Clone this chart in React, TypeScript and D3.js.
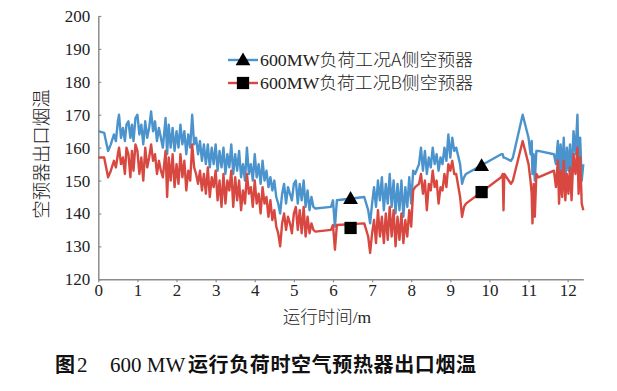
import React, { useEffect, useRef } from 'react';
import * as d3 from 'd3';

// running time (min)
const minutes = [
  0.0, 0.15, 0.25, 0.32, 0.4, 0.45, 0.5, 0.53, 0.58, 0.63, 0.68, 0.72, 0.77, 0.82, 0.86, 0.9, 0.95, 1.0,
  1.05, 1.1, 1.15, 1.2, 1.25, 1.3, 1.35, 1.4, 1.45, 1.5, 1.55, 1.6, 1.65, 1.72, 1.76, 1.8, 1.85, 1.9, 1.95,
  2.0, 2.05, 2.1, 2.15, 2.2, 2.25, 2.3, 2.35, 2.4, 2.45, 2.5, 2.55, 2.6, 2.65, 2.7, 2.75, 2.8, 2.85, 2.9,
  2.95, 3.0, 3.05, 3.1, 3.15, 3.2, 3.25, 3.3, 3.35, 3.4, 3.45, 3.5, 3.55, 3.6, 3.65, 3.7, 3.75, 3.8, 3.85,
  3.9, 3.95, 4.0, 4.05, 4.1, 4.15, 4.2, 4.25, 4.3, 4.35, 4.4, 4.45, 4.5, 4.55, 4.6, 4.65, 4.7, 4.75, 4.8,
  4.85, 4.9, 4.95, 5.0, 5.05, 5.1, 5.15, 5.2, 5.25, 5.3, 5.35, 5.4, 5.45, 5.5, 5.55, 5.95, 6.0, 6.05, 6.1,
  6.8, 6.9, 6.95, 7.0, 7.05, 7.1, 7.15, 7.2, 7.25, 7.3, 7.35, 7.4, 7.45, 7.5, 7.55, 7.6, 7.65, 7.7, 7.75,
  7.8, 7.85, 7.9, 7.95, 8.0, 8.05, 8.1, 8.2, 8.25, 8.3, 8.35, 8.4, 8.45, 8.5, 8.55, 8.6, 8.65, 8.7, 8.75,
  8.8, 8.85, 8.9, 8.95, 9.0, 9.05, 9.1, 9.15, 9.25, 9.3, 9.35, 9.4, 10.3, 10.34, 10.36, 10.38, 10.55, 10.6,
  10.85, 11.0, 11.05, 11.08, 11.1, 11.13, 11.16, 11.2, 11.25, 11.65, 11.7, 11.75, 11.78, 11.82, 11.86,
  11.9, 11.94, 11.98, 12.02, 12.06, 12.1, 12.15, 12.2, 12.25, 12.28, 12.32, 12.36, 12.4,
];

// A-side air preheater outlet flue gas temperature
const sideA = [
  165, 164.5, 159, 161, 164, 162, 168, 170, 163, 166, 162, 167, 168, 163, 167, 162, 169, 170,
  164, 167, 161, 168, 163, 166, 171, 165, 168, 162, 166, 163, 160, 169, 158, 167, 160, 166, 159,
  165, 160, 167, 161, 165, 158, 164, 160, 170, 161, 163, 158, 162, 156, 161, 155, 161, 154, 160,
  155, 161, 153, 159, 154, 160, 152, 158, 154, 161, 152, 158, 153, 159, 151, 155, 150, 160, 152,
  155, 150, 158, 151, 155, 149, 156, 150, 153, 148, 151, 147, 150, 145, 143, 140, 146, 149, 143,
  148, 146, 144, 149, 150, 143, 149, 144, 150, 142, 147, 141, 145, 142, 141.5, 142, 144, 136, 144,
  145, 141, 137, 143, 148, 142, 150, 144, 151, 141, 149, 143, 152, 142, 150, 140, 149, 141, 150,
  139, 148, 142, 151, 143, 153, 152, 155, 160, 153, 159, 152, 157, 154, 160, 155, 158, 153, 157,
  155, 160, 156, 164, 157, 163, 159, 160, 155, 149, 151, 152, 158, 158, 157, 157, 156, 157,
  170, 163, 158, 162, 152, 158, 150, 159, 159, 158, 155, 162, 150, 161, 152,
  163, 150, 160, 153, 161, 151, 165, 158, 170, 154, 163, 150, 155,
];

// B-side air preheater outlet flue gas temperature
const sideB = [
  157, 157, 151, 153, 156, 154, 158, 160, 155, 157, 152, 160, 158, 151, 159, 153, 161, 159,
  152, 157, 150, 160, 154, 157, 161, 156, 158, 152, 156, 153, 151, 159, 145, 157, 150, 158, 148,
  155, 149, 158, 151, 156, 147, 153, 150, 161, 154, 152, 149, 153, 147, 152, 146, 154, 145, 151,
  148, 153, 144, 150, 142, 152, 143, 150, 147, 153, 142, 151, 144, 150, 141, 147, 143, 152, 146,
  148, 142, 150, 143, 146, 140, 148, 143, 145, 139, 144, 138, 141, 136, 134, 130, 137, 140, 135,
  139, 137, 134, 140, 142, 135, 141, 134, 142, 133, 139, 134, 137, 135, 134.5, 135, 136.5, 129, 136.5,
  137, 133, 128, 134, 138, 131, 141, 133, 139, 131, 140, 132, 142, 133, 141, 130, 139, 132, 140,
  131, 138, 133, 141, 136, 147, 148, 149, 152, 146, 150, 141, 149, 147, 153, 148, 150, 143, 148,
  147, 152, 148, 155, 153, 156, 152, 152, 145, 139, 142, 143, 151, 152, 141, 152, 149, 150,
  162, 155, 150, 146, 137, 149, 139, 152, 151, 153, 148, 156, 143, 153, 145,
  156, 144, 152, 146, 154, 144, 158, 152, 160, 146, 157, 143, 141,
];

// marker points drawn on the plot
const markerTimes = [6.45, 9.8];
const markerA = [144.5, 154.5];
const markerB = [135.6, 146.5];

const xTicks = [0, 1, 2, 3, 4, 5, 6, 7, 8, 9, 10, 11, 12];
const yTicks = [120, 130, 140, 150, 160, 170, 180, 190, 200];

const legendLabels = ['600MW负荷工况A侧空预器', '600MW负荷工况B侧空预器'];
const blue = '#4b93cd';
const red = '#d84840';

export default function App() {
  const ref = useRef<SVGSVGElement>(null);

  useEffect(() => {
    const svg = d3.select(ref.current);
    svg.selectAll('*').remove();

    const width = 617;
    const height = 391;

    const x = d3.scaleLinear().domain([0, 12.4]).range([98.3, 583.3]);
    const y = d3.scaleLinear().domain([120, 200]).range([279.3, 16]);

    const serif = '"Liberation Serif", "DejaVu Serif", serif';
    const cjk = '"Noto Sans CJK SC", sans-serif';
    const axisColor = '#8c8c8c';

    svg.attr('width', width).attr('height', height);
    svg.append('rect').attr('width', width).attr('height', height).attr('fill', '#fff');

    // Y axis
    const gy = svg
      .append('g')
      .attr('transform', `translate(${x(0)},0)`)
      .attr('font-family', serif)
      .call(d3.axisLeft(y).tickValues(yTicks).tickSize(-3).tickSizeOuter(0).tickPadding(8));
    gy.attr('font-family', serif);
    gy.select('.domain').attr('stroke', axisColor).attr('stroke-width', 1.5);
    gy.selectAll('.tick line').attr('stroke', axisColor).attr('stroke-width', 1.2);
    gy.selectAll('.tick text')
      .attr('fill', '#222')
      .style('font-family', serif)
      .style('font-size', '17px')
      .attr('x', -8);

    // X axis
    const gx = svg
      .append('g')
      .attr('transform', `translate(0,${y(120)})`)
      .call(d3.axisBottom(x).tickValues(xTicks).tickSize(3).tickSizeOuter(0).tickPadding(2));
    gx.attr('font-family', serif);
    gx.select('.domain').attr('stroke', axisColor).attr('stroke-width', 1.5);
    gx.selectAll('.tick line').attr('stroke', axisColor).attr('stroke-width', 1.2);
    gx.selectAll('.tick text')
      .attr('fill', '#222')
      .style('font-family', serif)
      .style('font-size', '17px');

    // lines
    const line = d3
      .line<number>()
      .x((d, i) => x(minutes[i]))
      .y((d) => y(d));

    svg
      .append('path')
      .datum(sideA)
      .attr('fill', 'none')
      .attr('stroke', blue)
      .attr('stroke-width', 2.4)
      .attr('stroke-linejoin', 'round')
      .attr('d', line);

    svg
      .append('path')
      .datum(sideB)
      .attr('fill', 'none')
      .attr('stroke', red)
      .attr('stroke-width', 2.4)
      .attr('stroke-linejoin', 'round')
      .attr('d', line);

    const tri = d3.symbol().type(d3.symbolTriangle).size(95);
    const sq = d3.symbol().type(d3.symbolSquare).size(150);

    // markers in plot
    markerTimes.forEach((t, i) => {
      svg.append('path').attr('d', tri).attr('fill', '#000')
        .attr('transform', `translate(${x(t)},${y(markerA[i]) + 1})`);
      svg.append('path').attr('d', sq).attr('fill', '#000')
        .attr('transform', `translate(${x(t)},${y(markerB[i])})`);
    });

    // legend
    const legendY = [60, 83];
    const legendColors = [blue, red];
    legendLabels.forEach((label, i) => {
      const ly = legendY[i];
      svg.append('line')
        .attr('x1', 228).attr('x2', 258).attr('y1', ly).attr('y2', ly)
        .attr('stroke', legendColors[i]).attr('stroke-width', 2.4);
      svg.append('path')
        .attr('d', i === 0 ? tri : sq)
        .attr('fill', '#000')
        .attr('transform', `translate(243,${ly + (i === 0 ? 1 : 0)})`);
      const t = svg.append('text')
        .attr('x', 260).attr('y', ly).attr('dy', '0.35em')
        .attr('fill', '#222')
        .attr('textLength', 213).attr('lengthAdjust', 'spacingAndGlyphs');
      t.append('tspan').style('font-family', serif).style('font-size', '17px').text(label.slice(0, 5));
      t.append('tspan').style('font-family', cjk).style('font-size', '17px').attr('font-weight', 300).text(label.slice(5));
    });

    // axis titles
    svg.append('text')
      .attr('transform', `translate(42,154) rotate(-90)`)
      .attr('text-anchor', 'middle')
      .attr('dy', '0.35em')
      .style('font-family', cjk)
      .attr('font-weight', 300)
      .style('font-size', '18.5px')
      .attr('fill', '#222')
      .text('空预器出口烟温');

    svg.append('text')
      .attr('x', 327).attr('y', 317).attr('dy', '0.35em')
      .attr('text-anchor', 'middle')
      .style('font-size', '17.5px')
      .attr('fill', '#222')
      .call((s) => {
        s.append('tspan').style('font-family', cjk).attr('font-weight', 300).text('运行时间');
        s.append('tspan').style('font-family', serif).text('/m');
      });

    // caption
    const cap = svg.append('g').attr('fill', '#111');
    cap.append('text').attr('x', 55).attr('y', 365).attr('dy', '0.35em')
      .style('font-family', cjk).attr('font-weight', 700).style('font-size', '20px').text('图');
    cap.append('text').attr('x', 77).attr('y', 365).attr('dy', '0.35em')
      .style('font-family', serif).style('font-size', '21px').text('2');
    cap.append('text').attr('x', 110).attr('y', 365).attr('dy', '0.35em')
      .style('font-family', serif).style('font-size', '21px').text('600 MW');
    cap.append('text').attr('x', 188).attr('y', 365).attr('dy', '0.35em')
      .style('font-family', cjk).attr('font-weight', 700).style('font-size', '20px')
      .attr('textLength', 288).attr('lengthAdjust', 'spacing')
      .text('运行负荷时空气预热器出口烟温');
  }, []);

  return <svg ref={ref} style={{ position: 'absolute', left: 0, top: 0, display: 'block' }} />;
}
